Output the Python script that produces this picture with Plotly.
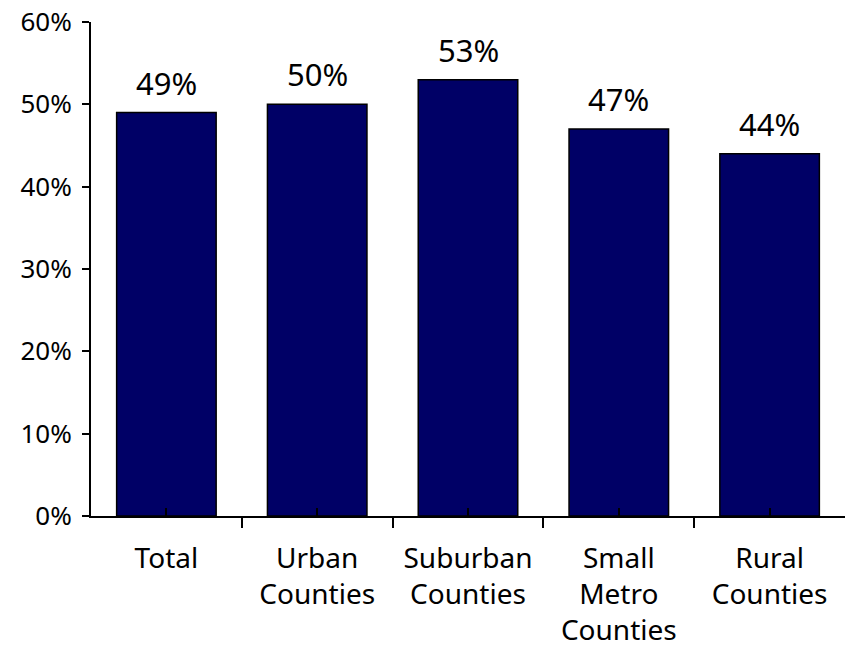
import plotly.graph_objects as go

# data
categories = ["Total", "Urban<br>Counties", "Suburban<br>Counties", "Small<br>Metro<br>Counties", "Rural<br>Counties"]
values = [49, 50, 53, 47, 44]
y_ticks = [0, 10, 20, 30, 40, 50, 60]

x = list(range(len(categories)))

fig = go.Figure()
fig.add_trace(go.Bar(
    x=x,
    y=values,
    width=0.66,
    marker=dict(color="#000066", line=dict(color="black", width=1.5)),
))

# value labels sit a bit higher above the bars than plotly's outside text
for xi, v in zip(x, values):
    fig.add_annotation(
        x=xi, y=v, text=f"{v}%", showarrow=False,
        yanchor="bottom", yshift=7,
        font=dict(size=31, color="black"),
    )

fig.update_layout(
    width=845,
    height=653,
    margin=dict(l=91, r=0, t=22, b=137),
    plot_bgcolor="white",
    paper_bgcolor="white",
    font=dict(family="Noto Sans", size=26, color="black"),
    showlegend=False,
)
fig.update_xaxes(
    range=[-0.5, len(categories) - 0.5],
    tickvals=x,
    ticktext=categories,
    ticks="inside",
    ticklen=8,
    tickwidth=2,
    tickcolor="black",
    showline=True,
    linecolor="black",
    linewidth=2,
    showgrid=False,
    zeroline=False,
    tickfont=dict(size=28),
    ticklabelstandoff=16,
    automargin=False,
    minor=dict(tickvals=[i - 0.5 for i in x], ticks="outside", ticklen=10, tickwidth=2,
               tickcolor="black", showgrid=False),
)
fig.update_yaxes(
    range=[0, 60],
    tickvals=y_ticks,
    ticktext=[f"{v}%" for v in y_ticks],
    ticks="outside",
    ticklen=7,
    tickwidth=2,
    tickcolor="black",
    showline=True,
    linecolor="black",
    linewidth=2,
    showgrid=False,
    zeroline=False,
    tickfont=dict(size=26),
    ticklabelstandoff=5,
    automargin=False,
)

# drop the browser's default 8px body margin so the figure sits at 0,0
fig.write_html("out.html", config={"displayModeBar": False},
               post_script="document.body.style.margin='0';")
